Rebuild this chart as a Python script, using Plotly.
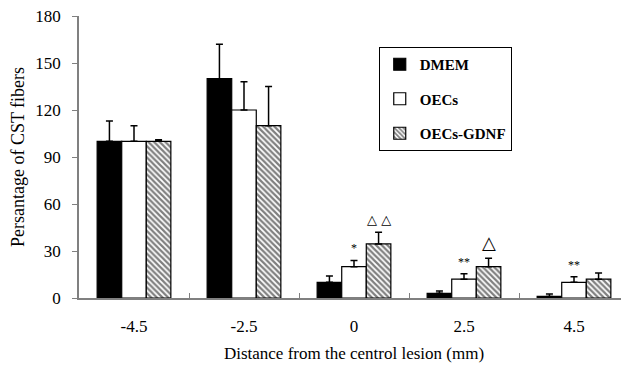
import plotly.graph_objects as go

categories = ["-4.5", "-2.5", "0", "2.5", "4.5"]
series_names = ["DMEM", "OECs", "OECs-GDNF"]
dmem = [100, 140, 10, 3, 1]
dmem_err = [13, 22, 4, 1.5, 1.5]
oecs = [100, 120, 20, 12, 10]
oecs_err = [10, 18, 4, 3.5, 3.5]
gdnf = [100, 110, 34.5, 20, 12]
gdnf_err = [1, 25, 7.5, 5.3, 4]
y_ticks = [0, 30, 60, 90, 120, 150, 180]

# significance marks: (category index, series index, text, size)
marks = [(2, 1, "*", 12), (2, 2, "△ △", 13), (3, 1, "**", 12), (3, 2, "△", 18), (4, 1, "**", 12)]

SERIF = "Times New Roman, Liberation Serif, serif"
bargap = 0.33
values = [dmem, oecs, gdnf]
errors = [dmem_err, oecs_err, gdnf_err]
fills = [
    dict(color="black"),
    dict(color="white"),
    dict(color="white", pattern=dict(shape="\\", size=4, solidity=0.55, fgcolor="black", bgcolor="white")),
]

fig = go.Figure()
for k in range(3):
    f = fills[k]
    fig.add_trace(go.Bar(
        x=categories, y=values[k], name=series_names[k], legendgroup=series_names[k],
        marker=dict(color=f["color"], pattern=f.get("pattern"), line=dict(color="black", width=1.2)),
        error_y=dict(type="data", array=errors[k], arrayminus=[0] * len(categories), symmetric=False,
                     color="black", thickness=1.5, width=3.5),
    ))

bw = (1 - bargap) / 3
for ci, si, txt, sz in marks:
    top = values[si][ci] + errors[si][ci]
    fig.add_annotation(
        x=ci + (si - 1) * bw, y=top, xref="x", yref="y", text=txt, showarrow=False,
        yanchor="bottom", yshift=3,
        font=dict(family="DejaVu Sans" if "△" in txt else SERIF, size=sz, color="black"),
    )

fig.update_layout(
    width=621, height=359,
    margin=dict(l=71, r=0, t=8, b=69),
    paper_bgcolor="white", plot_bgcolor="white",
    barmode="group", bargap=bargap, bargroupgap=0,
    font=dict(family=SERIF, color="black", size=17),
    showlegend=True,
    legend=dict(
        x=0.545, y=0.89, xanchor="left", yanchor="top",
        bordercolor="black", borderwidth=1, bgcolor="white",
        font=dict(family=SERIF, size=15, color="black", weight="bold"),
        tracegroupgap=12, itemwidth=30,
    ),
)
fig.update_xaxes(
    type="category", showline=True, linecolor="#808080", linewidth=1.5,
    ticks="inside", tickson="boundaries", ticklen=5, tickcolor="#808080",
    ticklabelstandoff=12, tickfont=dict(size=17),
    title=dict(text="Distance from the centrol lesion (mm)", font=dict(size=17), standoff=12),
    showgrid=False, zeroline=False,
)
fig.update_yaxes(
    range=[0, 180], tickvals=y_ticks, showline=True, linecolor="#808080", linewidth=1.5,
    ticks="outside", ticklen=5, tickcolor="#808080", tickfont=dict(size=17),
    ticklabelstandoff=8, ticklabeloverflow="allow",
    title=dict(text="Persantage of CST fibers", font=dict(size=18), standoff=7),
    showgrid=False, zeroline=False,
)
fig.write_html("out.html")
